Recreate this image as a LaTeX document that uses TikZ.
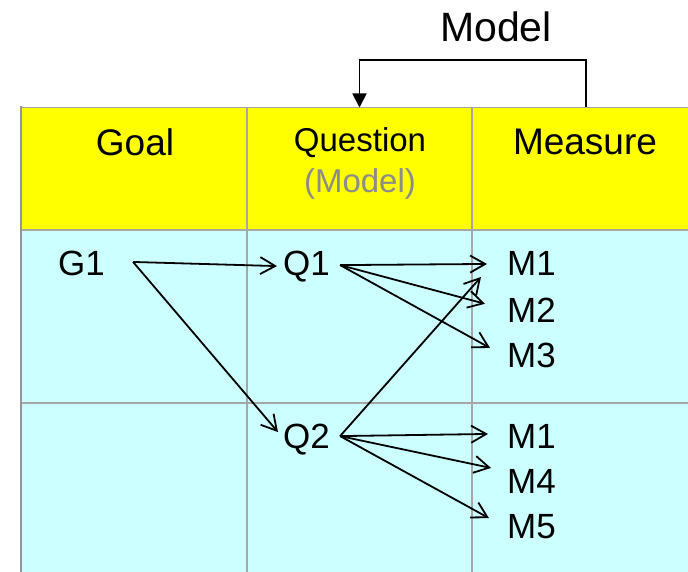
\documentclass[tikz,border=0pt]{standalone}
\usepackage{fontspec}
\setmainfont{Liberation Sans}
\usetikzlibrary{arrows.meta,calc}
\definecolor{hdryellow}{HTML}{FFFF00}
\definecolor{bodycyan}{HTML}{CCFFFF}
\definecolor{gridgray}{HTML}{A6A6A6}
\definecolor{notegray}{HTML}{8C8C8C}
\begin{document}
\begin{tikzpicture}[x=1pt,y=-1pt,
  lbl/.style={inner sep=0pt,anchor=base west,font=\fontsize{35}{40}\selectfont},
  head/.style={inner sep=0pt,anchor=base,font=\fontsize{37}{42}\selectfont},
  cellbox/.style={inner sep=0pt,outer sep=0pt,minimum height=122.5pt},
  gridline/.style={draw=gridgray,line width=1.2pt},
  link/.style={line width=1.8pt,-{Straight Barb[length=15pt,width=17pt,line width=1.8pt]}},
  modellink/.style={line width=1.8pt,-{Triangle[length=14pt,width=14pt]}}]
\useasboundingbox (0,0) rectangle (688,572);
\clip (0,0) rectangle (688,572);

% table background and grid
\fill[hdryellow] (21,107.5) rectangle (700,230);
\fill[bodycyan] (21,230) rectangle (700,580);
\draw[gridline] (21,107.5) -- (700,107.5);
\draw[gridline] (21,230) -- (700,230);
\draw[gridline] (21,403) -- (700,403);
\draw[gridline] (247,107.5) -- (247,580);
\draw[gridline] (472,107.5) -- (472,580);
\draw[draw=gridgray!90!black,line width=2.5pt] (21,106.5) -- (21,580);

% header cells
\node[cellbox,minimum width=225pt] (hq) at (359.5,168.75) {};
\node[cellbox,minimum width=228pt] (hm) at (586,168.75) {};

% header texts
\node[head,font=\fontsize{41}{45}\selectfont] (model) at (496,41.7) {Model};
\node[head] (goal) at (135,155.7) {Goal};
\node[head,font=\fontsize{33}{38}\selectfont] (question) at (360,152) {Question};
\node[head,font=\fontsize{33}{38}\selectfont,text=notegray] (qmodel) at (360,193) {(Model)};
\node[head] (measure) at (585,155) {Measure};

\draw[modellink] (hm.north) -- ++(0,-47.5) -| (hq.north);

% goals, questions, measures
\node[lbl] (g1) at (58,275) {G1};
\node[lbl] (q1) at (283,275) {Q1};
\node[lbl] (q2) at (283,448) {Q2};
\node[lbl] (m1) at (507,276) {M1};
\node[lbl] (m2) at (507,322) {M2};
\node[lbl] (m3) at (507,367) {M3};
\node[lbl] (n1) at (507,448) {M1};
\node[lbl] (m4) at (507,493) {M4};
\node[lbl] (m5) at (507,538) {M5};

% fan-out points
\coordinate (g1o) at ($(g1.east)+(28,-1)$);
\coordinate (q1o) at ($(q1.east)+(10,-1)$);
\coordinate (q2o) at ($(q2.east)+(10,-3)$);

\draw[link] (g1o) -- ($(q1.west)+(-6,0)$);
\draw[link] (g1o) -- ($(q2.west)+(-5,-7)$);
\draw[link] (q1o) -- ($(m1.west)+(-20,0)$);
\draw[link] (q1o) -- ($(m2.west)+(-22,-6)$);
\draw[link] (q1o) -- ($(m3.west)+(-17,-7)$);
\draw[link] (q2o) -- ($(m1.west)+(-26,13)$);
\draw[link] (q2o) -- ($(n1.west)+(-19,-2)$);
\draw[link] (q2o) -- ($(m4.west)+(-16,-13)$);
\draw[link] (q2o) -- ($(m5.west)+(-18,-8)$);
\end{tikzpicture}
\end{document}
